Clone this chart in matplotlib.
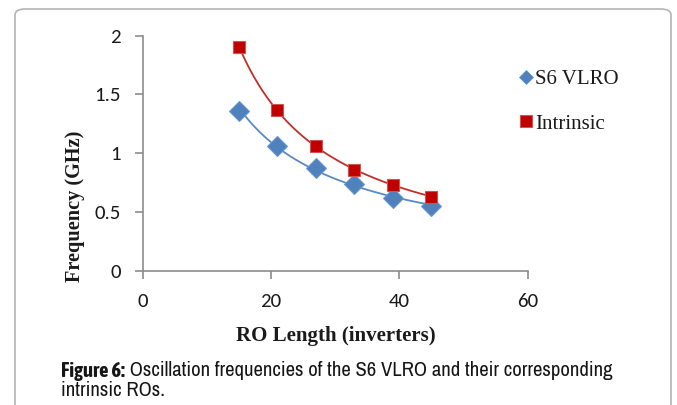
import numpy as np
import matplotlib
matplotlib.use("Agg")
import matplotlib.pyplot as plt
from matplotlib.patches import FancyBboxPatch
from matplotlib.lines import Line2D

# Ring-oscillator length (number of inverters) and measured frequencies (GHz)
ro_length = [15, 21, 27, 33, 39, 45]
freq_vlro = [1.36, 1.06, 0.87, 0.74, 0.62, 0.55]
freq_intrinsic = [1.90, 1.37, 1.06, 0.86, 0.73, 0.63]

series_names = ["S6 VLRO", "Intrinsic"]
x_ticks = [0, 20, 40, 60]
y_ticks = [0, 0.5, 1, 1.5, 2]
y_tick_labels = ["0", "0.5", "1", "1.5", "2"]
x_label = "RO Length (inverters)"
y_label = "Frequency (GHz)"
caption_bold = "Figure 6:"
caption_line1 = " Oscillation frequencies of the S6 VLRO and their corresponding"
caption_line2 = "intrinsic ROs."

W, H, DPI = 677, 405, 100
fig = plt.figure(figsize=(W / DPI, H / DPI), dpi=DPI)
fig.patch.set_facecolor("white")


def fx(px):
    return px / W


def fy(py):
    return 1 - py / H


# rounded frame around the figure panel (open at the bottom edge)
frame = FancyBboxPatch((fx(15), fy(440)), fx(671) - fx(15), fy(9) - fy(440),
                       boxstyle="round,pad=0,rounding_size=0.015",
                       transform=fig.transFigure, facecolor="none",
                       edgecolor="#b4b4b4", linewidth=1.2, zorder=0)
fig.patches.append(frame)

ax_left, ax_right = 142.7, 527.5
ax_top, ax_bottom = 35.7, 270.7
ax = fig.add_axes([fx(ax_left), fy(ax_bottom), fx(ax_right) - fx(ax_left),
                   (ax_bottom - ax_top) / H])
ax.set_xlim(0, 60)
ax.set_ylim(0, 2)

blue = "#4F81BD"
red = "#C00000"
blue_edge = "#6C97CC"
red_edge = "#D05252"


def power_fit(x, y):
    b, loga = np.polyfit(np.log(x), np.log(y), 1)
    xs = np.linspace(min(x), max(x), 200)
    return xs, np.exp(loga) * xs ** b


xs, ys = power_fit(ro_length, freq_vlro)
ax.plot(xs, ys, color="#5A8AC6", lw=1.3, zorder=2)
xs, ys = power_fit(ro_length, freq_intrinsic)
ax.plot(xs, ys, color="#C0302A", lw=1.3, zorder=2)

ax.plot(ro_length, freq_vlro, ls="none", marker="D", ms=10.5,
        mfc=blue, mec=blue_edge, mew=0.8, zorder=3)
ax.plot(ro_length, freq_intrinsic, ls="none", marker="s", ms=8.5,
        mfc=red, mec=red_edge, mew=0.8, zorder=3)

for side in ["top", "right"]:
    ax.spines[side].set_visible(False)
for side in ["left", "bottom"]:
    ax.spines[side].set_color("#8c8c8c")
    ax.spines[side].set_linewidth(1.2)

tick_font = ["Carlito", "Lato", "DejaVu Sans"]
ax.set_xticks(x_ticks)
ax.set_xticklabels([str(t) for t in x_ticks], family=tick_font, fontsize=15,
                   color="#1a1a1a")
ax.set_yticks(y_ticks)
ax.set_yticklabels(y_tick_labels, family=tick_font, fontsize=15,
                   color="#1a1a1a")
ax.tick_params(axis="both", direction="out", length=5.8, width=1.2,
               color="#8c8c8c")
ax.tick_params(axis="x", pad=10)
ax.tick_params(axis="y", pad=10)

serif = ["Liberation Serif", "DejaVu Serif"]
fig.text(fx(335.5), fy(336), x_label, ha="center", va="center",
         family=serif, fontweight="bold", fontsize=15, color="#1a1a1a")
fig.text(fx(75), fy(206), y_label, ha="center", va="center", rotation=90,
         family=serif, fontweight="bold", fontsize=14.6, color="#1a1a1a")

handles = [
    Line2D([], [], ls="none", marker="D", ms=7.5, mfc=blue, mec=blue_edge,
           mew=0.6),
    Line2D([], [], ls="none", marker="s", ms=8.5, mfc=red, mec=red_edge,
           mew=0.8),
]
leg = ax.legend(handles, series_names, loc="upper left",
                bbox_to_anchor=(fx(510), fy(59)),
                bbox_transform=fig.transFigure, frameon=False,
                prop={"family": serif, "size": 15}, handlelength=0.5,
                handletextpad=0.2, labelspacing=1.2, borderpad=0)
for t in leg.get_texts():
    t.set_color("#1a1a1a")

# caption below the chart
cap_regular = ["Archivo Narrow", "DejaVu Sans"]
cap_bold = ["Asap Condensed", "Archivo Narrow", "DejaVu Sans"]
cap_size = 13
renderer = fig.canvas.get_renderer()
t_bold = fig.text(fx(61), fy(371), caption_bold, ha="left", va="center",
                  family=cap_bold, fontweight="bold", fontsize=cap_size,
                  color="#151515")
t_rest = fig.text(fx(61), fy(371), caption_line1, ha="left", va="center",
                  family=cap_regular, fontsize=cap_size, color="#151515")
w_total = (t_bold.get_window_extent(renderer).width
           + t_rest.get_window_extent(renderer).width)
cap_size = cap_size * (612 - 61) / w_total
t_bold.set_fontsize(cap_size)
t_rest.set_fontsize(cap_size)
wb = t_bold.get_window_extent(renderer).width
t_rest.set_x(fx(61 + wb))
fig.text(fx(61), fy(391), caption_line2, ha="left", va="center",
         family=cap_regular, fontsize=cap_size, color="#151515")

fig.savefig("out.png", dpi=DPI, facecolor="white")
